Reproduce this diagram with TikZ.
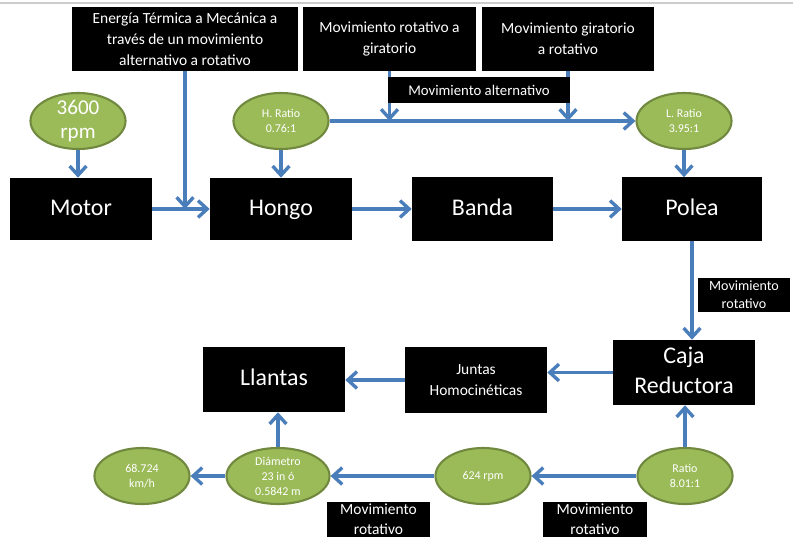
\documentclass[tikz,border=0pt]{standalone}
\usepackage{fontspec}
\setmainfont{Carlito}
\usetikzlibrary{arrows.meta,shapes.geometric}
\definecolor{azul}{HTML}{4A7EBB}
\definecolor{verde}{HTML}{9BBB59}
\definecolor{verdeborde}{HTML}{71893F}
\newcommand\puntal{\rule[-3pt]{0pt}{15pt}}
\begin{document}
\begin{tikzpicture}[x=0.025cm,y=0.025cm,
bloque/.style={fill=black,text=white,align=center,inner sep=0pt},
elipse/.style={ellipse,fill=verde,draw=verdeborde,line width=1.5pt,text=white,align=center,inner sep=0pt,
minimum width=2.375cm,minimum height=1.4cm,font=\fontsize{8.5}{10.7}\selectfont},
grande/.style={font=\fontsize{17}{21}\selectfont,execute at begin node=\puntal,execute at end node=\puntal},
medio/.style={font=\fontsize{11}{15}\selectfont},
flecha/.style={line width=2.4pt,azul,-{Straight Barb[length=2.3mm,width=4.2mm]}}]
\useasboundingbox (0,0) rectangle (793,-537);
\draw[gray!40,line width=.8pt] (0,-3) -- (793,-3);
% fila superior
\node[bloque,medio,minimum width=5.65cm,minimum height=1.6cm] (ener) at (185,-39)
{Energía Térmica a Mecánica a\\través de un movimiento\\alternativo a rotativo};
\node[bloque,medio,minimum width=4.325cm,minimum height=1.6cm] (rotgir) at (389.5,-39)
{Movimiento rotativo a\\giratorio};
\node[bloque,medio,minimum width=4.3cm,minimum height=1.6cm] (girrot) at (568,-39)
{Movimiento giratorio\\a rotativo};
\node[elipse,font=\fontsize{15}{17}\selectfont,inner ysep=-3pt] (rpm) at (78,-121) {3600\\rpm};
\node[elipse] (hr) at (281,-121) {H. Ratio\\0.76:1};
\node[elipse] (lr) at (684,-121) {L. Ratio\\3.95:1};
% bloques principales
\node[bloque,grande,minimum width=3.55cm,minimum height=1.55cm] (motor) at (81,-209) {Motor};
\node[bloque,grande,minimum width=3.55cm,minimum height=1.55cm] (hongo) at (281,-209) {Hongo};
\node[bloque,grande,minimum width=3.525cm,minimum height=1.575cm] (banda) at (482.5,-209) {Banda};
\node[bloque,grande,minimum width=3.5cm,minimum height=1.575cm] (polea) at (692,-209) {Polea};
\node[bloque,grande,minimum width=3.55cm,minimum height=1.625cm] (caja) at (684,-372.5) {Caja\\Reductora};
\node[bloque,medio,minimum width=3.55cm,minimum height=1.65cm] (juntas) at (476,-380) {Juntas\\Homocinéticas};
\node[bloque,grande,minimum width=3.55cm,minimum height=1.625cm] (llantas) at (274,-379.5) {Llantas};
% fila inferior
\node[elipse] (ratio) at (685,-476) {Ratio\\8.01:1};
\node[elipse] (r624) at (483,-476) {624 rpm};
\node[elipse,minimum width=2.575cm,inner ysep=-1.5pt] (diam) at (278,-476) {Diámetro\\23 in ó\\0.5842 m};
\node[elipse] (kmh) at (142,-476) {68.724\\km/h};
% conexiones
\draw[flecha] (rpm.south) -- (rpm.south |- motor.north);
\draw[flecha] (motor.east) -- (hongo.west);
\draw[flecha] (ener.south) -- (ener.south |- motor.east);
\draw[flecha] (hongo.east) -- (banda.west);
\draw[flecha] (banda.east) -- (polea.west);
\draw[flecha] (hr.south) -- (hongo.north);
\draw[flecha] (hr.east) -- (lr.west);
\draw[flecha] (rotgir.south) -- (rotgir.south |- hr.east);
\draw[flecha] (girrot.south) -- (girrot.south |- hr.east);
\node[bloque,font=\fontsize{10.5}{13}\selectfont,minimum width=4.55cm,minimum height=0.65cm] (alter) at (479,-90)
{Movimiento alternativo};
\draw[flecha] (lr.south) -- (lr.south |- polea.north);
\draw[flecha] (polea.south) -- (polea.south |- caja.north);
\node[bloque,font=\fontsize{10}{13}\selectfont,minimum width=2.3cm,minimum height=0.85cm] (lab1) at (744,-295)
{Movimiento\\rotativo};
\draw[flecha] (caja.west) -- (caja.west -| juntas.east);
\draw[flecha] (juntas.west) -- (juntas.west -| llantas.east);
\draw[flecha] (ratio.north) -- (ratio.north |- caja.south);
\draw[flecha] (ratio.west) -- (r624.east);
\draw[flecha] (r624.west) -- (diam.east);
\draw[flecha] (diam.west) -- (kmh.east);
\draw[flecha] (diam.north) -- (diam.north |- llantas.south);
\node[bloque,font=\fontsize{11}{14}\selectfont,minimum width=2.575cm,minimum height=0.875cm] (lab2) at (378.5,-519.5)
{Movimiento\\rotativo};
\node[bloque,font=\fontsize{11}{14}\selectfont,minimum width=2.6cm,minimum height=0.875cm] (lab3) at (595,-519.5)
{Movimiento\\rotativo};
\end{tikzpicture}
\end{document}
